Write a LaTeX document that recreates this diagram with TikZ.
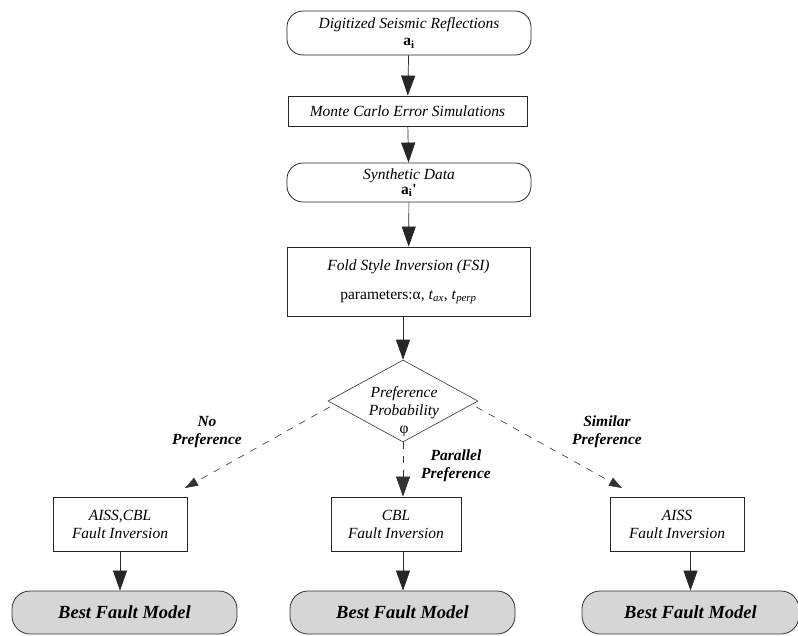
\documentclass[tikz,border=0pt]{standalone}
\usepackage{fontspec}
\setmainfont{Liberation Serif}
\usetikzlibrary{shapes.geometric,arrows.meta,calc}
\tikzset{
  txt/.style={font=\fontsize{15.5}{18}\selectfont\itshape, align=center},
  lbl/.style={font=\fontsize{15.5}{18}\selectfont\bfseries\itshape, align=center},
  rbox/.style={draw=black!85, line width=0.8pt, rounded corners=16pt, txt, inner sep=0pt},
  sbox/.style={draw=black!85, line width=0.8pt, txt, inner sep=0pt},
  best/.style={draw=black!80, line width=0.8pt, rounded corners=18pt, fill=black!16,
     font=\fontsize{18.5}{22}\selectfont\bfseries\itshape, inner sep=0pt,
     minimum height=43pt},
  bigarrow/.style={draw=black!85, line width=0.7pt, -{Triangle[length=20pt,width=14pt]}},
  dasharrow/.style={draw=black!80, line width=0.6pt, dash pattern=on 7pt off 7pt, -{Triangle[length=13pt,width=9pt]}},
}
\newcommand{\bsub}[1]{\textbf{a}\textsubscript{\textbf{#1}}}
\begin{document}
\begin{tikzpicture}[x=1pt,y=-1pt]
\useasboundingbox (0,0) rectangle (798,635);
% main chain
\node[rbox, minimum width=244pt, minimum height=44pt] (dig) at (409,33)
  {Digitized Seismic Reflections\\[-1pt] \upshape\bsub{i}};
\node[sbox, minimum width=239pt, minimum height=30pt] (mc) at (407.5,111)
  {Monte Carlo Error Simulations};
\node[rbox, minimum width=244pt, minimum height=39pt] (syn) at (409,182.5)
  {Synthetic Data\\[-3pt] \upshape\bsub{i}\textbf{\textquotesingle}};
\node[sbox, minimum width=243pt, minimum height=69pt] (fsi) at (408.5,281.5)
  {Fold Style Inversion (FSI)\\[11pt] \upshape parameters:α, \textit{t}\textsubscript{\textit{ax}}, \textit{t}\textsubscript{\textit{perp}}};
\node[draw=black!80, line width=0.6pt, shape=diamond, minimum width=150pt, minimum height=82pt, inner sep=0pt] (d) at (403,401) {};
\node[txt] (dt) at (404,412) {Preference\\Probability\\\upshape φ};
% bottom boxes
\node[sbox, minimum width=134pt, minimum height=54pt] (b1) at (120,524)
  {AISS,CBL\\Fault Inversion};
\node[sbox, minimum width=130pt, minimum height=54pt] (b2) at (396,524)
  {CBL\\Fault Inversion};
\node[sbox, minimum width=134pt, minimum height=54pt] (b3) at (677,524)
  {AISS\\Fault Inversion};
\node[best, minimum width=225pt] (f1) at (124.5,612.5) {Best Fault Model};
\node[best, minimum width=225pt] (f2) at (402.5,612.5) {Best Fault Model};
\node[best, minimum width=217pt] (f3) at (690.5,612.5) {Best Fault Model};
% labels
\node[lbl] (l1) at (207,432) {No\\Preference};
\node[lbl] (l2) at (456,466) {Parallel\\Preference};
\node[lbl] (l3) at (607,432) {Similar\\Preference};
% connectors
\draw[bigarrow] (dig) -- (mc);
\draw[bigarrow] (mc) -- (syn);
\draw[bigarrow] (syn) -- (fsi);
\draw[bigarrow] (fsi.south -| d.north) -- (d.north);
\coordinate (t1) at (185,488);
\coordinate (t3) at (622,488);
\draw[dasharrow] ($(d.west)+(2,6)$) -- (t1);
\draw[dasharrow] ($(d.east)+(-2,6)$) -- (t3);
\draw[draw=black!80, line width=0.6pt, dash pattern=on 7pt off 7pt, -{Triangle[length=20pt,width=14pt]}] (d.south) -- (d.south |- b2.north);
\draw[bigarrow] (b1) -- (b1 |- f1.north);
\draw[bigarrow] (b2.south -| d.south) -- (f2.north -| d.south);
\draw[bigarrow] (b3.south -| f3.north) -- (f3.north);
\end{tikzpicture}
\end{document}
